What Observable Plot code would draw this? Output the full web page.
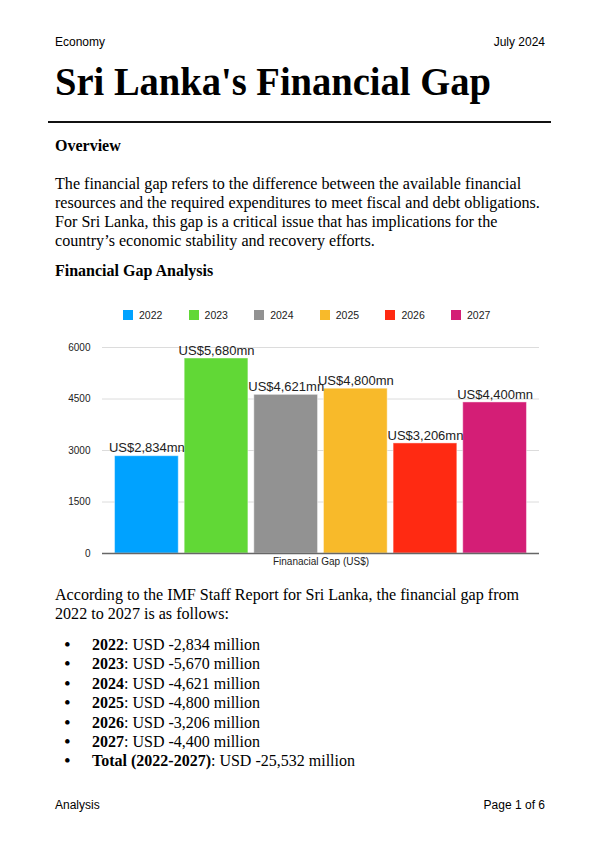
<!DOCTYPE html>
<html>
<head>
<meta charset="utf-8">
<script src="https://cdn.jsdelivr.net/npm/d3@7"></script>
<script src="https://cdn.jsdelivr.net/npm/@observablehq/plot@0.6"></script>
<style>
  html, body { margin: 0; padding: 0; background: #fff; }
  body { width: 600px; height: 850px; position: relative; overflow: hidden; color: #000; }
  .abs { position: absolute; }
  .sans { font-family: "Liberation Sans", Arial, Helvetica, sans-serif; }
  .serif { font-family: "Liberation Serif", "Times New Roman", Times, serif; }
  #legend { display: flex; align-items: center; font-size: 10.5px; color: #222; }
  #legend .item { display: flex; align-items: center; width: 65.6px; }
  #legend .sw { width: 10px; height: 10px; margin-right: 6px; }
  ul#bullets { list-style: none; margin: 0; padding: 0; }
  ul#bullets li { position: relative; padding-left: 37px; line-height: 19.4px; }
  ul#bullets li::before { content: "•"; position: absolute; left: 9px; top: 0; font-size: 19px; line-height: 19.4px; }
</style>
</head>
<body>
<div class="abs sans" style="left:55px; top:35px; font-size:12px; line-height:14px;">Economy</div>
<div class="abs sans" style="right:55px; top:35px; font-size:12px; line-height:14px;">July 2024</div>
<div class="abs serif" style="left:55px; top:61px; font-size:41px; line-height:41px; font-weight:bold; white-space:nowrap; transform:scaleX(0.94); transform-origin:left top;">Sri Lanka's Financial Gap</div>
<div class="abs" style="left:48px; top:121px; width:503px; height:2px; background:#111;"></div>
<div class="abs serif" style="left:55px; top:136px; font-size:16px; line-height:19px; font-weight:bold;">Overview</div>
<div class="abs serif" style="left:55px; top:174px; font-size:16.1px; line-height:19px; white-space:nowrap;">The financial gap refers to the difference between the available financial<br>resources and the required expenditures to meet fiscal and debt obligations.<br>For Sri Lanka, this gap is a critical issue that has implications for the<br>country’s economic stability and recovery efforts.</div>
<div class="abs serif" style="left:55px; top:261px; font-size:16px; line-height:19px; font-weight:bold;">Financial Gap Analysis</div>
<div id="legend" class="abs sans" style="left:123px; top:309px; height:12px;"></div>
<div id="chart" class="abs" style="left:0; top:335px;"></div>
<div class="abs serif" style="left:55px; top:585px; font-size:16.1px; line-height:19.2px; white-space:nowrap;">According to the IMF Staff Report for Sri Lanka, the financial gap from<br>2022 to 2027 is as follows:</div>
<ul id="bullets" class="abs serif" style="left:55px; top:635px; font-size:16px; white-space:nowrap;"></ul>
<div class="abs sans" style="left:55px; top:798px; font-size:12px; line-height:14px;">Analysis</div>
<div class="abs sans" style="right:55px; top:798px; font-size:12px; line-height:14px;">Page 1 of 6</div>

<script>
// ---- data ----
const years = ["2022", "2023", "2024", "2025", "2026", "2027"];
const gapValues = [2834, 5680, 4621, 4800, 3206, 4400];            // chart values (US$ mn)
const colors = ["#00A2FF", "#61D836", "#929292", "#F8BA2A", "#FF2A12", "#D41E76"];
const yTicks = [0, 1500, 3000, 4500, 6000];
const xLabel = "Finanacial Gap (US$)";
const listYears = ["2022", "2023", "2024", "2025", "2026", "2027"];
const listValues = ["-2,834", "-5,670", "-4,621", "-4,800", "-3,206", "-4,400"];
const totalLabel = "Total (2022-2027)";
const totalValue = "-25,532";

const data = years.map((year, i) => ({year, value: gapValues[i]}));
const fmt = d3.format(",");

// ---- legend ----
const legend = document.getElementById("legend");
years.forEach((y, i) => {
  const item = document.createElement("div");
  item.className = "item";
  item.innerHTML = `<span class="sw" style="background:${colors[i]}"></span><span>${y}</span>`;
  legend.appendChild(item);
});

// ---- chart ----
const chart = Plot.plot({
  width: 600,
  height: 240,
  marginLeft: 102,
  marginRight: 61,
  marginTop: 12,
  marginBottom: 22,
  style: {fontFamily: '"Liberation Sans", Arial, sans-serif', background: "transparent"},
  x: {domain: years, paddingInner: 0.085, paddingOuter: 0.18, round: false, axis: null},
  y: {domain: [0, 6000], axis: null},
  color: {domain: years, range: colors},
  marks: [
    Plot.gridY(yTicks.filter(d => d > 0), {stroke: "#dcdcdc", strokeOpacity: 1}),
    Plot.axisY(yTicks, {tickSize: 0, tickPadding: 12, fontSize: 10, fill: "#222", tickFormat: d3.format("d"), label: null}),
    Plot.barY(data, {x: "year", y: "value", fill: "year", stroke: "white", strokeOpacity: 0.45, strokeWidth: 1}),
    Plot.ruleY([0], {stroke: "#666", strokeWidth: 1.5}),
    Plot.text(data, {x: "year", y: "value", text: d => `US$${fmt(d.value)}mn`, dy: -8, fontSize: 13, fill: "#222"}),
    Plot.text([xLabel], {frameAnchor: "bottom", dy: 11, fontSize: 10, fill: "#222"})
  ]
});
document.getElementById("chart").appendChild(chart);

// ---- bullet list ----
const ul = document.getElementById("bullets");
listYears.forEach((y, i) => {
  const li = document.createElement("li");
  li.innerHTML = `<b>${y}</b>: USD ${listValues[i]} million`;
  ul.appendChild(li);
});
const tot = document.createElement("li");
tot.innerHTML = `<b>${totalLabel}</b>: USD ${totalValue} million`;
ul.appendChild(tot);
</script>
</body>
</html>
